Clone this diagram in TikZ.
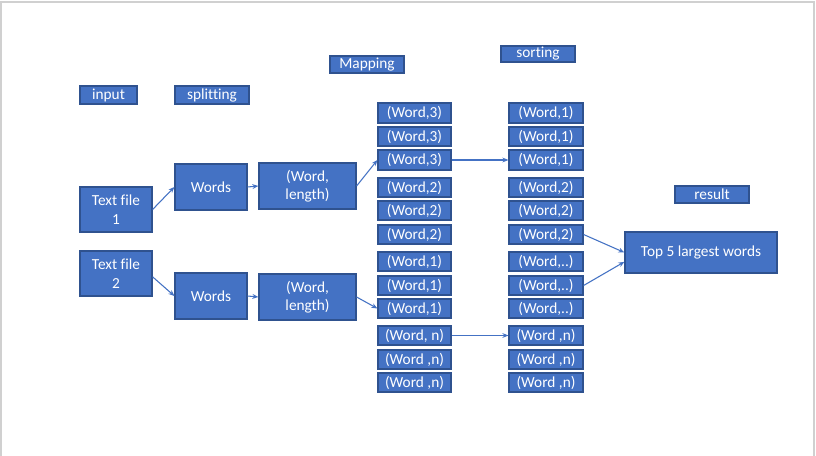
\documentclass[tikz,border=0pt]{standalone}
\usepackage{fontspec}
\setmainfont{Carlito}[Ligatures=NoCommon]
\usetikzlibrary{arrows.meta}
\definecolor{boxfill}{HTML}{4472C4}
\definecolor{boxline}{HTML}{2F528F}
\definecolor{frame}{HTML}{D0D0D0}
\tikzset{
  box/.style={draw=boxline, fill=boxfill, line width=0.9pt, inner sep=0pt,
    text=white, align=center, font=\fontsize{11.5}{13.9}\selectfont},
  conn/.style={draw=boxfill, line width=0.8pt, -{Stealth[length=4.5pt,width=3.6pt]}}
}
\newcommand{\boxat}[6]{% name, x1, y1, x2, y2, text
  \node[box, minimum width={(#4-#2)*0.75pt}, minimum height={(#5-#3)*0.75pt}]
    (#1) at ({(#2+#4)/2},{(#3+#5)/2}) {#6};}
\begin{document}
\begin{tikzpicture}[x=0.75pt,y=-0.75pt]
\useasboundingbox (0,0) rectangle (816,456);
\fill[white] (0,0) rectangle (816,456);
\draw[frame, line width=1.5pt] (0.8,456) -- (0.8,2) -- (814,2) -- (814,456);
% headers
\boxat{input}{80}{86}{137}{104}{input}
\boxat{split}{175}{86}{249}{104}{splitting}
\boxat{map}{330}{56}{404}{73}{Mapping}
\boxat{sort}{501}{46}{575}{62}{sorting}
\boxat{res}{675}{186}{749}{203}{result}
% main chain
\boxat{tf1}{80}{187}{152}{232}{Text file\\1}
\boxat{tf2}{80}{251}{152}{296}{Text file\\2}
\boxat{w1}{175}{164}{247}{210}{Words}
\boxat{w2}{175}{273}{247}{319}{Words}
\boxat{wl1}{259}{163}{356}{209}{(Word,\\length)}
\boxat{wl2}{259}{274}{356}{320}{(Word,\\length)}
\boxat{top}{625}{232}{777}{273}{Top 5 largest words}
% mapping column
\boxat{m1}{378}{103}{451}{123}{(Word,3)}
\boxat{m2}{378}{127}{451}{146}{(Word,3)}
\boxat{m3}{378}{150}{451}{170}{(Word,3)}
\boxat{m4}{378}{178}{451}{197}{(Word,2)}
\boxat{m5}{378}{201}{451}{220}{(Word,2)}
\boxat{m6}{378}{225}{451}{244}{(Word,2)}
\boxat{m7}{378}{252}{451}{271}{(Word,1)}
\boxat{m8}{378}{276}{451}{295}{(Word,1)}
\boxat{m9}{378}{299}{451}{318}{(Word,1)}
\boxat{m10}{378}{326}{451}{345}{(Word, n)}
\boxat{m11}{378}{350}{451}{369}{(Word ,n)}
\boxat{m12}{378}{373}{451}{392}{(Word ,n)}
% sorting column
\boxat{s1}{509}{103}{583}{123}{(Word,1)}
\boxat{s2}{509}{127}{583}{146}{(Word,1)}
\boxat{s3}{509}{150}{583}{170}{(Word,1)}
\boxat{s4}{509}{178}{583}{197}{(Word,2)}
\boxat{s5}{509}{201}{583}{220}{(Word,2)}
\boxat{s6}{509}{225}{583}{244}{(Word,2)}
\boxat{s7}{509}{252}{583}{271}{(Word,..)}
\boxat{s8}{509}{276}{583}{295}{(Word,..)}
\boxat{s9}{509}{299}{583}{318}{(Word,..)}
\boxat{s10}{509}{326}{583}{345}{(Word ,n)}
\boxat{s11}{509}{350}{583}{369}{(Word ,n)}
\boxat{s12}{509}{373}{583}{392}{(Word ,n)}
% connectors
\draw[conn] (tf1.east) -- (w1.west);
\draw[conn] ([yshift=-2.5pt]tf2.east) -- (w2.west);
\draw[conn] (w1.east) -- (wl1.west);
\draw[conn] (w2.east) -- (wl2.west);
\draw[conn] (wl1.east) -- (m3.west);
\draw[conn] (wl2.east) -- (m9.west);
\draw[conn] (m3.east) -- (s3.west);
\draw[conn] (m10.east) -- (s10.west);
\draw[conn] (s6.east) -- (top.west);
\draw[conn] (s8.east) -- ([yshift=-7pt]top.west);
\end{tikzpicture}
\end{document}
